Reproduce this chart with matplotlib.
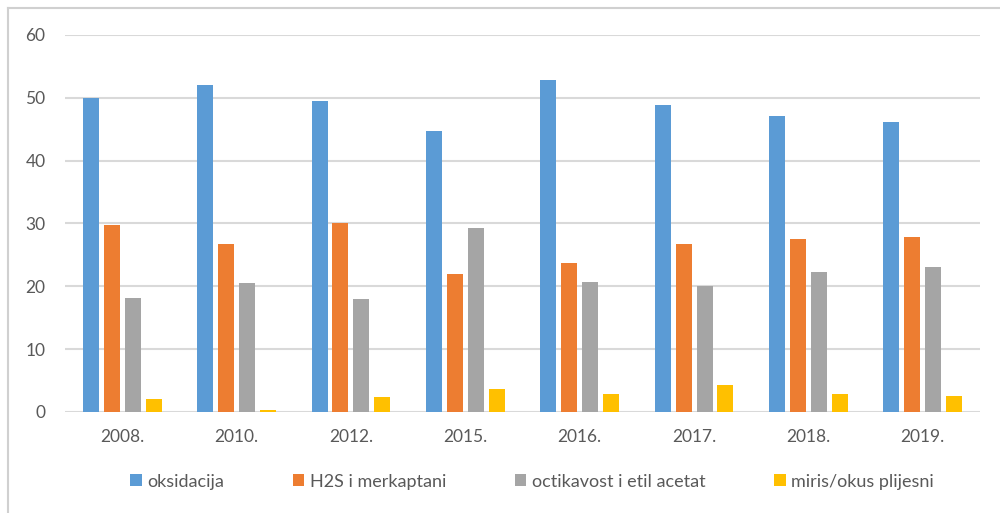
import matplotlib
matplotlib.use("Agg")
import matplotlib.pyplot as plt
import numpy as np
from matplotlib.lines import Line2D

years = ["2008.", "2010.", "2012.", "2015.", "2016.", "2017.", "2018.", "2019."]
series_names = ["oksidacija", "H2S i merkaptani", "octikavost i etil acetat", "miris/okus plijesni"]
oksidacija = [50.0, 52.1, 49.4, 44.7, 52.9, 48.9, 47.1, 46.2]
h2s = [29.8, 26.7, 30.0, 21.9, 23.7, 26.7, 27.5, 27.8]
octikavost = [18.1, 20.5, 18.0, 29.3, 20.6, 20.0, 22.2, 23.0]
miris = [2.1, 0.3, 2.3, 3.7, 2.8, 4.3, 2.8, 2.5]
colors = ["#5B9BD5", "#ED7D31", "#A5A5A5", "#FFC000"]
yticks = [0, 10, 20, 30, 40, 50, 60]

plt.rcParams["font.family"] = ["Lato", "DejaVu Sans"]
text_color = "#595959"
grid_color = "#D9D9D9"

fig = plt.figure(figsize=(10, 5.13), dpi=100)
ax = fig.add_axes([0.065, 0.197, 0.915, 0.735])

x = np.arange(len(years))
width = 0.14
step = 0.183
all_series = [oksidacija, h2s, octikavost, miris]
handles = []
for i, (vals, col) in enumerate(zip(all_series, colors)):
    offs = (i - 1.5) * step
    b = ax.bar(x + offs, vals, width=width, color=col, zorder=3, label=series_names[i])
    handles.append(b)

ax.set_xlim(-0.5, len(years) - 0.5)
ax.set_ylim(0, 60)
ax.set_yticks(yticks)
ax.set_yticklabels([str(t) for t in yticks])
ax.set_xticks(x)
ax.set_xticklabels(years)
ax.tick_params(axis="both", length=0, labelsize=12.5, colors=text_color)
ax.tick_params(axis="y", pad=14)
ax.tick_params(axis="x", pad=12)
for s in ax.spines.values():
    s.set_visible(False)
ax.yaxis.grid(True, color=grid_color, linewidth=1.5, zorder=0)
ax.set_axisbelow(True)

leg = fig.legend(handles=handles, labels=series_names, loc="center",
                 bbox_to_anchor=(0.532, 0.061), ncol=4, frameon=False,
                 fontsize=13, handlelength=0.65, handleheight=0.65,
                 handletextpad=0.3, columnspacing=3.8)
for t in leg.get_texts():
    t.set_color(text_color)

# chart area border
fig.add_artist(Line2D([0.008, 1.0], [1 - 8 / 513, 1 - 8 / 513], transform=fig.transFigure,
                      color="#D0D0D0", linewidth=1.5))
fig.add_artist(Line2D([0.008, 0.008], [0.0, 1 - 8 / 513], transform=fig.transFigure,
                      color="#D0D0D0", linewidth=1.5))

fig.savefig("out.png", dpi=100, facecolor="white")
